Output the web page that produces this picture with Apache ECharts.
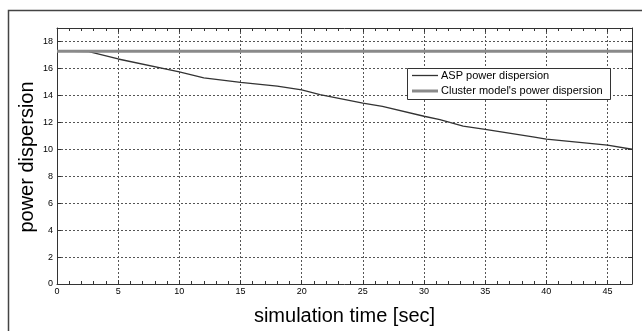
<!DOCTYPE html>
<html><head><meta charset="utf-8">
<script src="https://cdn.jsdelivr.net/npm/echarts@6/dist/echarts.min.js"></script>
<style>html,body{margin:0;padding:0;background:#fff}#c{width:642px;height:331px}</style>
</head><body><div id="c"></div>
<script>
var seriesNames = ["ASP power dispersion", "Cluster model's power dispersion"];
var aspTime = [0, 2.6, 5, 10, 12, 15, 18, 20, 21.5, 25, 26.6, 30, 31.3, 33.2, 35, 38.9, 40, 45, 47];
var aspValues = [17.28, 17.25, 16.7, 15.74, 15.3, 14.97, 14.69, 14.4, 14.05, 13.43, 13.18, 12.45, 12.2, 11.72, 11.48, 10.92, 10.75, 10.3, 10.0];
var clusterTime = [0, 47];
var clusterValues = [17.28, 17.28];
var xTicks = [0, 5, 10, 15, 20, 25, 30, 35, 40, 45];
var yTicks = [0, 2, 4, 6, 8, 10, 12, 14, 16, 18];
var xName = "simulation time [sec]";
var yName = "power dispersion";

function zip(a, b) { return a.map(function (v, i) { return [v, b[i]]; }); }
var FONT = 'Liberation Sans, Arial, sans-serif';
var grid = { left: 57, right: 10, top: 28, bottom: 44, containLabel: false };
var gridLine = { show: true, lineStyle: { color: '#555', width: 1, type: [2, 2] } };
var axisLine = { show: true, onZero: false, lineStyle: { color: '#333', width: 1 } };
var labelStyle = { fontFamily: FONT, fontSize: 9, color: '#000' };

var chart = echarts.init(document.getElementById('c'));
chart.setOption({
  animation: false,
  backgroundColor: '#fff',
  grid: grid,
  xAxis: [{
    type: 'value', min: 0, max: 47, interval: 5, position: 'bottom',
    name: xName, nameLocation: 'middle', nameGap: 22,
    nameTextStyle: { fontFamily: FONT, fontSize: 20, color: '#000' },
    axisLine: axisLine,
    axisTick: { show: true, inside: true, length: 4, lineStyle: { color: '#333' } },
    minorTick: { show: true, splitNumber: 5, length: 3, lineStyle: { color: '#333' } },
    axisLabel: Object.assign({ margin: 3, showMaxLabel: false, formatter: function (v) { return xTicks.indexOf(v) >= 0 ? String(v) : ''; } }, labelStyle),
    splitLine: gridLine
  }, {
    type: 'value', min: 0, max: 47, interval: 5, position: 'top',
    axisLine: axisLine,
    axisTick: { show: true, inside: true, length: 4, lineStyle: { color: '#333' } },
    minorTick: { show: true, splitNumber: 5, length: 3, lineStyle: { color: '#333' } },
    axisLabel: { show: false }, splitLine: { show: false }
  }],
  yAxis: [{
    type: 'value', min: 0, max: 19, interval: 2, position: 'left',
    axisLine: axisLine,
    axisTick: { show: true, inside: true, length: 4, lineStyle: { color: '#333' } },
    axisLabel: Object.assign({ margin: 4, showMaxLabel: false, formatter: function (v) { return yTicks.indexOf(v) >= 0 ? String(v) : ''; } }, labelStyle),
    splitLine: gridLine
  }, {
    type: 'value', min: 0, max: 19, interval: 2, position: 'right',
    axisLine: axisLine,
    axisTick: { show: true, inside: true, length: 4, lineStyle: { color: '#333' } },
    axisLabel: { show: false }, splitLine: { show: false }
  }],
  series: [{
    name: seriesNames[0], type: 'line', data: zip(aspTime, aspValues),
    showSymbol: false, symbol: 'none', lineStyle: { color: '#333', width: 1.3 }, z: 2
  }, {
    name: seriesNames[1], type: 'line', data: zip(clusterTime, clusterValues),
    showSymbol: false, symbol: 'none', lineStyle: { color: '#8a8a8a', width: 3 }, z: 3
  }],
  graphic: [
    { type: 'rect', left: 6, top: 8, shape: { x: 0, y: 0, width: 700, height: 400 }, style: { fill: 'none', stroke: '#444', lineWidth: 1.5 }, silent: true, z: -10 },
    { type: 'text', x: 27, y: 157, rotation: Math.PI / 2, style: { text: yName, fontFamily: FONT, fontSize: 20, fill: '#000', align: 'center', verticalAlign: 'middle' }, z: 50 },
    { type: 'rect', shape: { x: 407.5, y: 68.5, width: 203, height: 31 }, style: { fill: '#fff', stroke: '#333', lineWidth: 1 }, z: 100 },
    { type: 'line', shape: { x1: 412, y1: 75.5, x2: 438, y2: 75.5 }, style: { stroke: '#333', lineWidth: 1.3 }, z: 101 },
    { type: 'line', shape: { x1: 412, y1: 91, x2: 438, y2: 91 }, style: { stroke: '#8a8a8a', lineWidth: 3 }, z: 101 },
    { type: 'text', x: 441, y: 75.5, style: { text: seriesNames[0], fontFamily: FONT, fontSize: 11, fill: '#000', textVerticalAlign: 'middle', verticalAlign: 'middle' }, z: 101 },
    { type: 'text', x: 441, y: 91, style: { text: seriesNames[1], fontFamily: FONT, fontSize: 11, fill: '#000', textVerticalAlign: 'middle', verticalAlign: 'middle' }, z: 101 }
  ]
});
</script></body></html>
